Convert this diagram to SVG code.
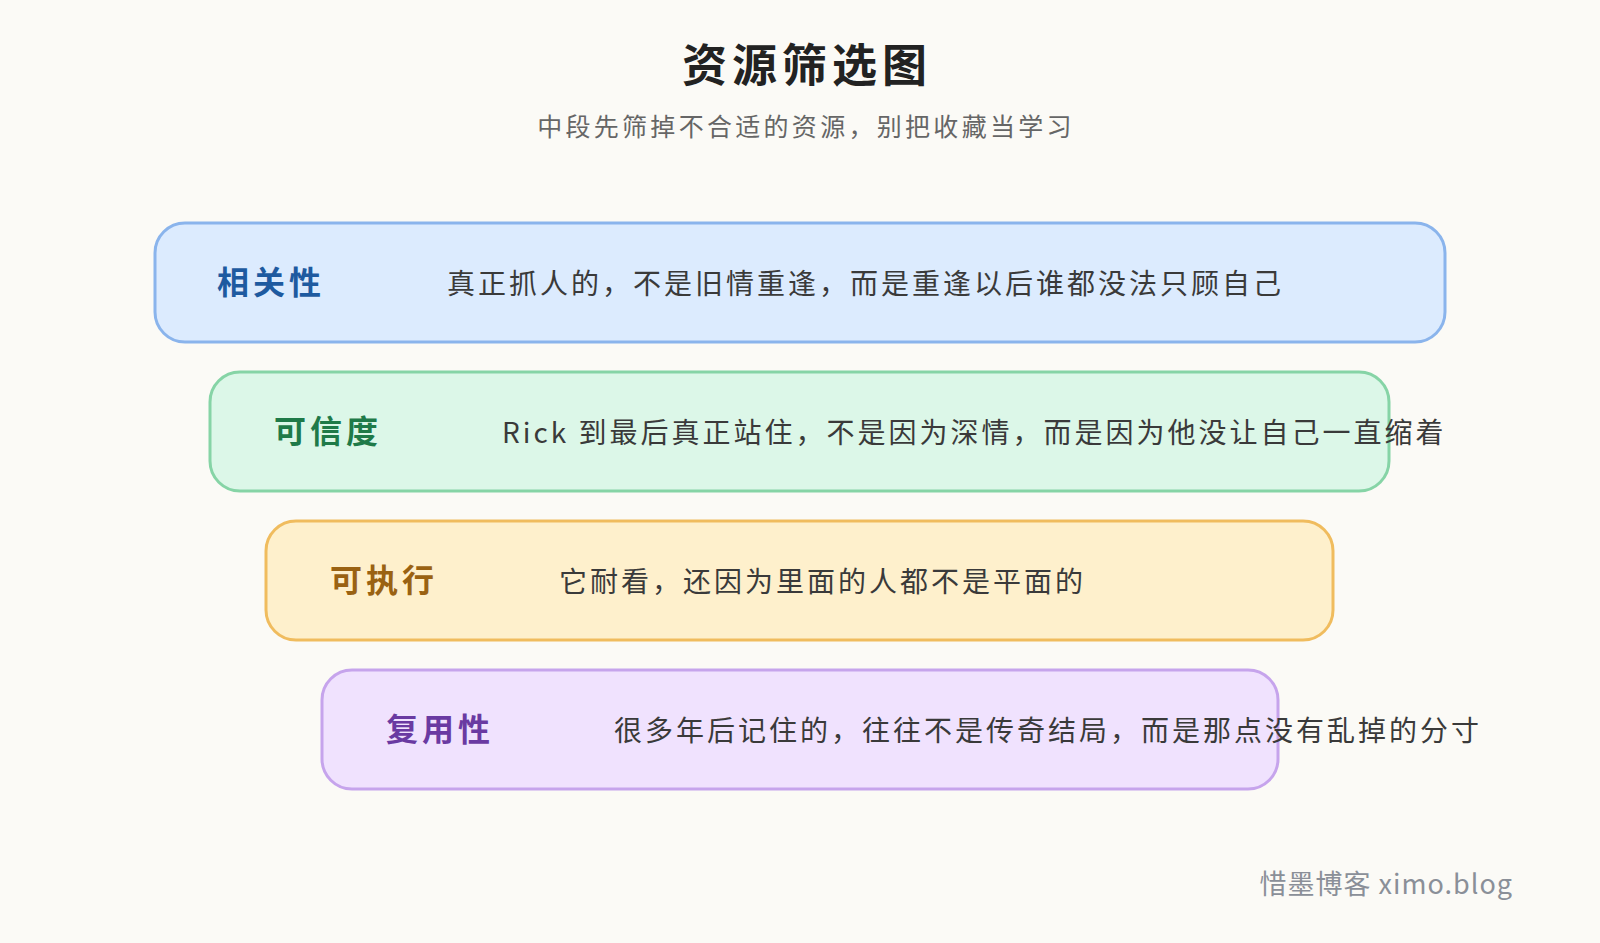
<svg xmlns="http://www.w3.org/2000/svg" width="1600" height="943" viewBox="0 0 1600 943">
<style>
text{font-family:"Noto Sans CJK SC","Noto Sans",sans-serif}
.lab{font-size:32px;font-weight:bold;letter-spacing:4px}
.txt{font-size:28px;fill:#3a3a3a;letter-spacing:3px}
.box{stroke-width:3}
</style>
<rect width="1600" height="943" fill="#fbfaf6"/>
<text x="807" y="82" text-anchor="middle" font-size="45" font-weight="bold" fill="#222" letter-spacing="5">资源筛选图</text>
<text x="806" y="136" text-anchor="middle" font-size="25" fill="#666" letter-spacing="3.3">中段先筛掉不合适的资源，别把收藏当学习</text>
<g id="n1"><rect class="box" x="155" y="223" width="1290" height="119" rx="30" fill="#dcebfe" stroke="#8ab4ec"/>
<text class="lab" x="217" y="294" fill="#1e5aa0">相关性</text>
<text class="txt" x="447" y="294">真正抓人的，不是旧情重逢，而是重逢以后谁都没法只顾自己</text></g>
<g id="n2"><rect class="box" x="210" y="372" width="1179" height="119" rx="30" fill="#dcf7e8" stroke="#86d4a6"/>
<text class="lab" x="274" y="443" fill="#1f7a48">可信度</text>
<text class="txt" x="502" y="443">Rick 到最后真正站住，不是因为深情，而是因为他没让自己一直缩着</text></g>
<g id="n3"><rect class="box" x="266" y="521" width="1067" height="119" rx="30" fill="#fef0cc" stroke="#f0bc5e"/>
<text class="lab" x="330" y="592" fill="#9a6212">可执行</text>
<text class="txt" x="559" y="592">它耐看，还因为里面的人都不是平面的</text></g>
<g id="n4"><rect class="box" x="322" y="670" width="956" height="119" rx="30" fill="#f0e2fe" stroke="#c6a4ec"/>
<text class="lab" x="386" y="741" fill="#6a3aa2">复用性</text>
<text class="txt" x="614" y="741">很多年后记住的，往往不是传奇结局，而是那点没有乱掉的分寸</text></g>
<g id="connectors"/>
<text x="1513" y="894" text-anchor="end" font-size="27" fill="#8a8f98" letter-spacing="1">惜墨博客 ximo.blog</text>
</svg>
